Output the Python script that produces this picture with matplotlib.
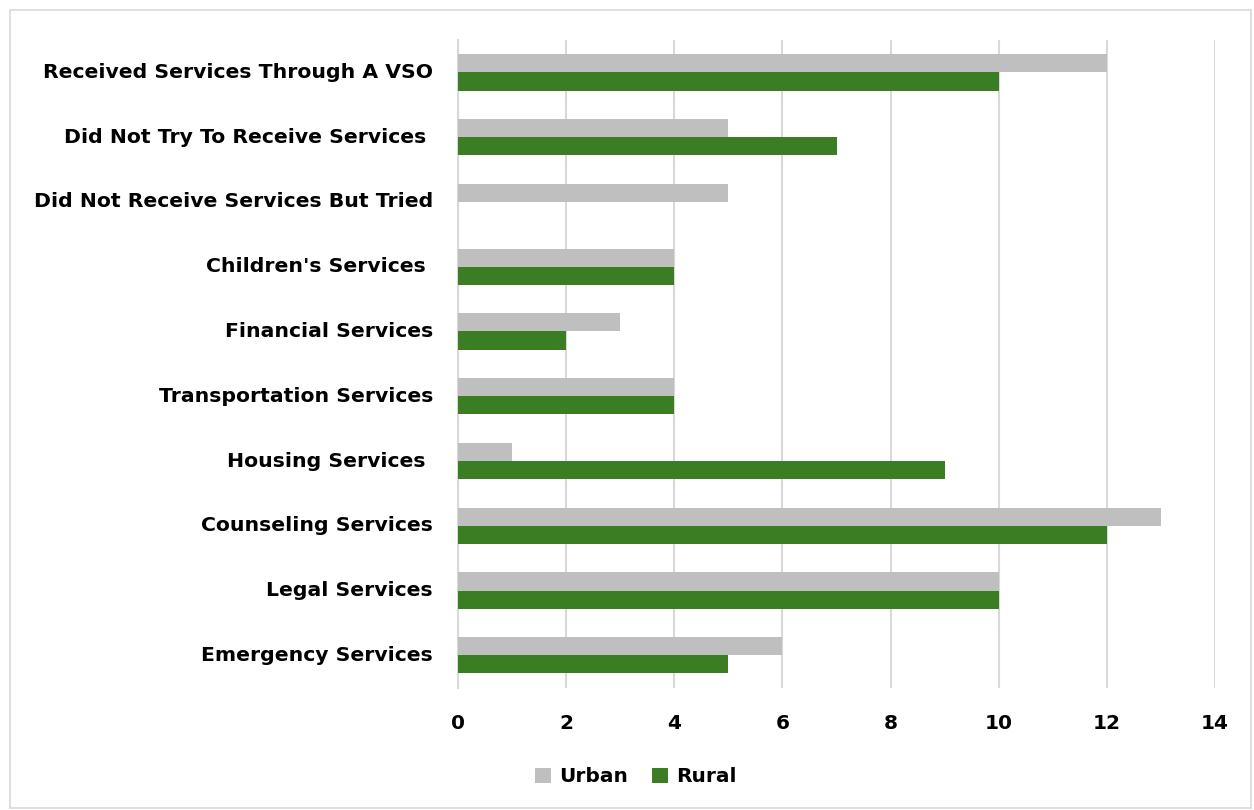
import numpy as np
import matplotlib
matplotlib.use('Agg')
import matplotlib.pyplot as plt
from matplotlib.patches import Rectangle

# services, listed top to bottom
categories = [
    "Received Services Through A VSO",
    "Did Not Try To Receive Services ",
    "Did Not Receive Services But Tried",
    "Children's Services ",
    "Financial Services",
    "Transportation Services",
    "Housing Services ",
    "Counseling Services",
    "Legal Services",
    "Emergency Services",
]
urban = [12, 5, 5, 4, 3, 4, 1, 13, 10, 6]
rural = [10, 7, 0, 4, 2, 4, 9, 12, 10, 5]
xticks = [0, 2, 4, 6, 8, 10, 12, 14]

plt.rcParams['font.family'] = ['DejaVu Sans']
plt.rcParams['font.weight'] = 'bold'

fig = plt.figure(figsize=(12.54, 8.1), dpi=100)
ax = fig.add_axes([0.3652, 0.151, 0.6038, 0.7996])

y = np.arange(len(categories))
h = 0.28
ax.barh(y - h / 2, urban, height=h, color='#BFBFBF', label='Urban', zorder=3)
ax.barh(y + h / 2, rural, height=h, color='#3B7D23', label='Rural', zorder=3)

ax.set_ylim(len(categories) - 0.5, -0.5)
ax.set_xlim(0, 14)
ax.set_yticks(y)
ax.set_yticklabels(categories, fontsize=14.7, fontweight='bold', va='center')
ax.set_xticks(xticks)
ax.set_xticklabels([str(t) for t in xticks], fontsize=14.5, fontweight='bold')
ax.tick_params(axis='both', length=0, colors='black')
ax.tick_params(axis='y', pad=18)
ax.tick_params(axis='x', pad=19)

ax.grid(axis='x', color='#D9D9D9', linewidth=1.5, zorder=0)
for side in ['top', 'right', 'bottom']:
    ax.spines[side].set_visible(False)
ax.spines['left'].set_color('#D9D9D9')
ax.spines['left'].set_linewidth(1.5)

fig.legend(loc='center', bbox_to_anchor=(0.507, 0.041), ncol=2, frameon=False,
           handlelength=0.8, handleheight=0.8, handletextpad=0.4,
           columnspacing=1.2, prop={'weight': 'bold', 'size': 14.5})

# thin frame around the chart area
fig.patches.append(Rectangle((0.008, 0.002), 0.99, 0.986, transform=fig.transFigure,
                             fill=False, edgecolor='#D9D9D9', linewidth=1.2))

fig.savefig('out.png', dpi=100)
